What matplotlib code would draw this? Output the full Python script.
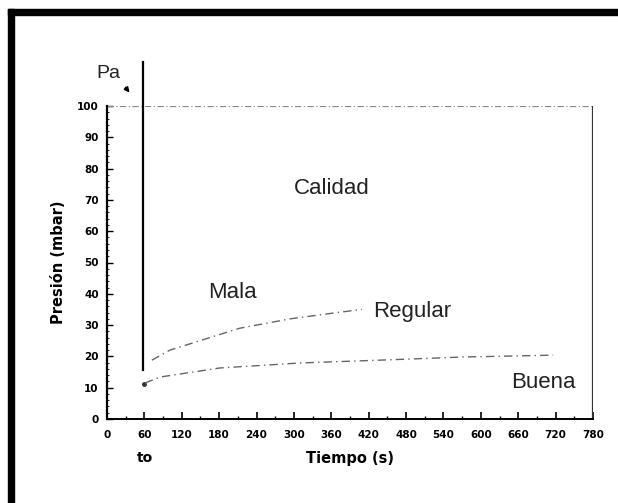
import matplotlib.pyplot as plt
import numpy as np
from matplotlib.patches import Rectangle

# Values
time_ticks = [0, 60, 120, 180, 240, 300, 360, 420, 480, 540, 600, 660, 720, 780]
pressure_ticks = [0, 10, 20, 30, 40, 50, 60, 70, 80, 90, 100]

# Mala / Regular boundary
upper_t = [72, 101, 149, 213, 294, 369, 409]
upper_p = [18.8, 22.0, 25.0, 29.0, 32.0, 34.0, 35.0]

# Regular / Buena boundary
lower_t = [61, 85, 181, 310, 438, 571, 716]
lower_p = [11.5, 13.4, 16.3, 17.9, 18.8, 19.8, 20.4]

# Evacuation drop at t0
drop_t = [58, 58]
drop_p = [114, 15.5]

regions = ["Calidad", "Mala", "Regular", "Buena"]
region_t = [360, 201, 490, 701]
region_p = [73.8, 40.3, 34.2, 11.8]

fig = plt.figure(figsize=(6.18, 5.03), dpi=100)

# scanned page frame (top and left edges only)
fig.patches.append(Rectangle((8 / 618, 0), 6 / 618, 494 / 503,
                             transform=fig.transFigure, color="black"))
fig.patches.append(Rectangle((8 / 618, 488 / 503), 610 / 618, 6 / 503,
                             transform=fig.transFigure, color="black"))

ax = fig.add_axes([107 / 618, 84 / 503, 486 / 618, 313 / 503])

ax.plot([0, 780], [100, 100], color="#8a8a8a", lw=0.9, ls=(0, (5, 2, 1, 2)))
ax.plot([780, 780], [0, 100], color="#333333", lw=1.6)
ax.plot(drop_t, drop_p, color="black", lw=1.6, clip_on=False)
ax.plot(60, 11.2, marker="o", ms=2.5, color="#333333")

ax.plot(upper_t, upper_p, color="#666666", lw=1.0, ls=(0, (6, 3, 1, 3)))
ax.plot(lower_t, lower_p, color="#666666", lw=1.0, ls=(0, (6, 3, 1, 3)))

for name, t, p in zip(regions, region_t, region_p):
    ax.text(t, p, name, ha="center", va="center", fontsize=16,
            family="Liberation Sans", color="#222222")

ax.text(2, 110.5, "Pa", ha="center", va="center", fontsize=14,
        family="Liberation Sans", color="#222222", clip_on=False)
ax.annotate("", xy=(39, 103.6), xytext=(27, 106.6), annotation_clip=False,
            arrowprops=dict(arrowstyle="-|>", color="black", lw=1.2,
                            mutation_scale=7))

ax.text(61, -12.5, "to", ha="center", va="center", fontsize=10,
        fontweight="bold", clip_on=False)

ax.set_xlim(0, 780)
ax.set_ylim(0, 100)
ax.set_xticks(time_ticks)
ax.set_xticklabels([str(t) for t in time_ticks])
ax.set_yticks(pressure_ticks)
ax.set_xticks(np.arange(30, 780, 60), minor=True)
ax.set_yticks(np.arange(0, 101, 2), minor=True)

ax.spines["top"].set_visible(False)
ax.spines["right"].set_visible(False)
ax.spines["left"].set_linewidth(1.6)
ax.spines["bottom"].set_linewidth(1.4)

ax.tick_params(axis="x", which="major", direction="in", length=5, width=1.2, pad=8,
               labelsize=7.5)
ax.tick_params(axis="x", which="minor", direction="in", length=2.5, width=1.0)
ax.tick_params(axis="y", which="major", direction="in", length=4, width=1.0, pad=6,
               labelsize=7.5)
ax.tick_params(axis="y", which="minor", direction="in", length=1.5, width=0.6)
for lab in ax.get_xticklabels() + ax.get_yticklabels():
    lab.set_fontweight("bold")

ax.set_xlabel("Tiempo (s)", fontsize=10.5, fontweight="bold", labelpad=8)
ax.set_ylabel("Presión (mbar)", fontsize=10.5, fontweight="bold", labelpad=8)

fig.savefig("out.png", dpi=100)
